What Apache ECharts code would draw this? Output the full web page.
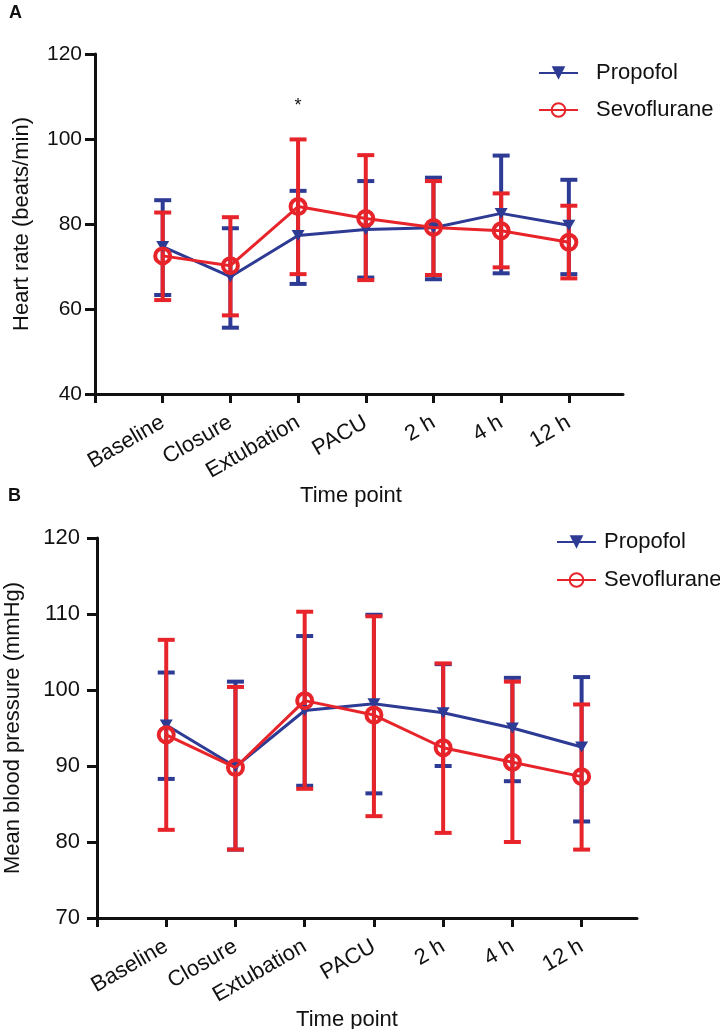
<!DOCTYPE html>
<html><head><meta charset="utf-8">
<script src="https://cdn.jsdelivr.net/npm/echarts@6/dist/echarts.min.js"></script>
<style>html,body{margin:0;padding:0;background:#fff}#c{width:720px;height:1029px}</style>
</head><body><div id="c"></div>
<script>
// ---------- data ----------
const timePoints = ['Baseline', 'Closure', 'Extubation', 'PACU', '2 h', '4 h', '12 h'];
const groupNames = ['Propofol', 'Sevoflurane'];

// Panel A: heart rate (beats/min)
const hrPropofolMean = [74.7, 67.6, 77.3, 78.7, 79.1, 82.5, 79.7];
const hrPropofolLow  = [63.3, 55.6, 65.9, 67.4, 67.0, 68.4, 68.2];
const hrPropofolHigh = [85.6, 79.0, 87.8, 90.1, 90.9, 96.1, 90.4];
const hrSevoMean = [72.5, 70.2, 84.1, 81.3, 79.2, 78.4, 75.7];
const hrSevoLow  = [62.1, 58.5, 68.2, 66.8, 68.0, 69.8, 67.2];
const hrSevoHigh = [82.7, 81.6, 99.9, 96.2, 90.1, 87.2, 84.3];
const hrStarPoint = 'Extubation';
const hrStarValue = 107.8;

// Panel B: mean blood pressure (mmHg)
const mapPropofolMean = [95.4, 89.9, 97.3, 98.2, 97.0, 95.0, 92.5];
const mapPropofolLow  = [88.3, 79.0, 87.4, 86.4, 90.0, 88.0, 82.7];
const mapPropofolHigh = [102.3, 101.1, 107.1, 109.9, 103.4, 101.6, 101.7];
const mapSevoMean = [94.1, 89.8, 98.6, 96.7, 92.4, 90.5, 88.6];
const mapSevoLow  = [81.6, 79.0, 87.0, 83.4, 81.2, 80.0, 79.0];
const mapSevoHigh = [106.6, 100.4, 110.3, 109.7, 103.5, 101.1, 98.1];

// ---------- styling ----------
const BLUE = '#2E3B95';
const RED = '#E8242B';
const FONT = "'Liberation Sans', Arial, sans-serif";
const BLACK = '#111';

const xPos = timePoints.map((_, i) => i + 1);
const xTickValues = [0].concat(xPos);

function pairs(means) { return means.map((v, i) => [xPos[i], v]); }
function bars(lows, highs) { return lows.map((v, i) => [xPos[i], v, highs[i]]); }

function errRender(color, capHalf, lw) {
  return function (params, api) {
    const x = api.value(0), lo = api.value(1), hi = api.value(2);
    const a = api.coord([x, lo]), b = api.coord([x, hi]);
    const style = { stroke: color, lineWidth: lw, fill: null };
    return {
      type: 'group',
      children: [
        { type: 'line', shape: { x1: a[0], y1: a[1], x2: b[0], y2: b[1] }, style: style },
        { type: 'line', shape: { x1: a[0] - capHalf, y1: a[1], x2: a[0] + capHalf, y2: a[1] }, style: style },
        { type: 'line', shape: { x1: b[0] - capHalf, y1: b[1], x2: b[0] + capHalf, y2: b[1] }, style: style }
      ]
    };
  };
}

function xAxisCfg(gridIndex, nameGap, namePadRight) {
  return {
    gridIndex: gridIndex, type: 'value', min: 0, max: 7.8,
    name: 'Time point', nameLocation: 'middle', nameGap: nameGap,
    nameTextStyle: { fontFamily: FONT, fontSize: 22, color: BLACK, padding: [0, namePadRight, 0, 0] },
    axisLine: { show: true, lineStyle: { color: BLACK, width: 3 } },
    axisTick: { show: true, customValues: xTickValues, length: 9, lineStyle: { color: BLACK, width: 3 } },
    axisLabel: {
      customValues: xPos, rotate: 30, margin: 27,
      fontFamily: FONT, fontSize: 22, color: BLACK,
      formatter: v => timePoints[Math.round(v) - 1] || ''
    },
    splitLine: { show: false }
  };
}

function yAxisCfg(gridIndex, name, min, max, interval, nameGap, labelMargin, fs) {
  return {
    gridIndex: gridIndex, type: 'value', min: min, max: max, interval: interval,
    name: name, nameLocation: 'middle', nameGap: nameGap,
    nameTextStyle: { fontFamily: FONT, fontSize: 22, color: BLACK },
    axisLine: { show: true, lineStyle: { color: BLACK, width: 3 } },
    axisTick: { show: true, length: 10, lineStyle: { color: BLACK, width: 3 } },
    axisLabel: { margin: labelMargin, fontFamily: FONT, fontSize: fs, color: BLACK },
    splitLine: { show: false }
  };
}

function lineSeries(name, idx, data, isSevo, extra) {
  const s = {
    name: name, type: 'line', xAxisIndex: idx, yAxisIndex: idx, data: data,
    symbol: isSevo ? 'circle' : 'triangle',
    symbolRotate: isSevo ? 0 : 180,
    symbolSize: isSevo ? 15 : [13, 11],
    lineStyle: { color: isSevo ? RED : BLUE, width: 3 },
    itemStyle: isSevo
      ? { color: 'rgba(255,255,255,0)', borderColor: RED, borderWidth: 4 }
      : { color: BLUE, borderWidth: 0 },
    emphasis: { disabled: true },
    animation: false, z: isSevo ? 5 : 4
  };
  return Object.assign(s, extra || {});
}

function errSeries(name, idx, data, color, z) {
  return {
    name: name, type: 'custom', xAxisIndex: idx, yAxisIndex: idx,
    renderItem: errRender(color, 8.5, 4), data: data,
    encode: { x: 0, y: [1, 2] }, animation: false, silent: true, z: z
  };
}

function legendCfg(left, top, gap, textPad) {
  return {
    data: groupNames, left: left, top: top, orient: 'vertical', padding: 0,
    itemWidth: 39, itemHeight: 17, itemGap: gap,
    textStyle: { fontFamily: FONT, fontSize: 22, color: BLACK, padding: [0, 0, 0, textPad] },
    selectedMode: false
  };
}

const option = {
  backgroundColor: '#fff',
  animation: false,
  title: [
    { text: 'A', left: 4, top: -1, textStyle: { fontFamily: FONT, fontSize: 18, fontWeight: 'bold', color: BLACK } },
    { text: 'B', left: 3, top: 482, textStyle: { fontFamily: FONT, fontSize: 18, fontWeight: 'bold', color: BLACK } }
  ],
  grid: [
    { left: 95, top: 54, width: 528, height: 340, outerBoundsMode: 'none', containLabel: false },
    { left: 97, top: 538, width: 540, height: 380, outerBoundsMode: 'none', containLabel: false }
  ],
  xAxis: [xAxisCfg(0, 86, 16), xAxisCfg(1, 86, 40)],
  yAxis: [
    yAxisCfg(0, 'Heart rate (beats/min)', 40, 120, 20, 62, 13, 21),
    yAxisCfg(1, 'Mean blood pressure (mmHg)', 70, 120, 10, 73, 17, 22)
  ],
  legend: [legendCfg(538, 62, 15, 13), legendCfg(556, 531, 16, 3)],
  series: [
    errSeries('Propofol SD A', 0, bars(hrPropofolLow, hrPropofolHigh), BLUE, 2),
    errSeries('Sevoflurane SD A', 0, bars(hrSevoLow, hrSevoHigh), RED, 3),
    lineSeries(groupNames[0], 0, pairs(hrPropofolMean), false),
    lineSeries(groupNames[1], 0, pairs(hrSevoMean), true, {
      markPoint: {
        symbol: 'circle', symbolSize: 1, itemStyle: { color: 'rgba(0,0,0,0)' },
        label: { show: true, formatter: '*', fontFamily: FONT, fontSize: 18, color: BLACK, position: 'inside' },
        data: [{ coord: [xPos[timePoints.indexOf(hrStarPoint)], hrStarValue] }]
      }
    }),
    errSeries('Propofol SD B', 1, bars(mapPropofolLow, mapPropofolHigh), BLUE, 2),
    errSeries('Sevoflurane SD B', 1, bars(mapSevoLow, mapSevoHigh), RED, 3),
    lineSeries(groupNames[0], 1, pairs(mapPropofolMean), false),
    lineSeries(groupNames[1], 1, pairs(mapSevoMean), true)
  ]
};

const chart = echarts.init(document.getElementById('c'), null, { renderer: 'canvas' });
chart.setOption(option);
</script>
</body></html>
